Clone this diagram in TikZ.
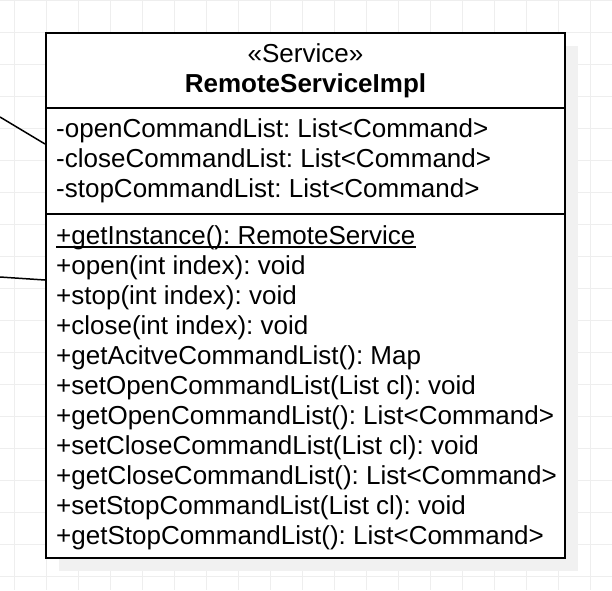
\documentclass[tikz,border=0pt]{standalone}
\usepackage{fontspec}
\setmainfont{Liberation Sans}
\usetikzlibrary{calc}
\definecolor{gridc}{HTML}{EEEEEE}
\definecolor{shadowc}{HTML}{F1F1F1}
\frenchspacing
\begin{document}
\begin{tikzpicture}[x=1pt,y=-1pt,
  gridline/.style={draw=gridc, line width=1pt},
  member/.style={anchor=base west, inner sep=0pt, font=\fontsize{26}{30}\selectfont},
  headtxt/.style={anchor=base, inner sep=0pt, font=\fontsize{26}{30}\selectfont},
  classbox/.style={draw=black, line width=2pt, fill=white, anchor=north west, inner sep=0pt, outer sep=0pt},
  sepline/.style={draw=black, line width=2pt},
  assoc/.style={draw=black, line width=1.5pt}]
\useasboundingbox (0,0) rectangle (612,590);
\fill[white] (0,0) rectangle (612,590);
\foreach \x in {14,46,...,590} \draw[gridline] (\x,0) -- (\x,590);
\foreach \y in {0,32,...,576} \draw[gridline] (0,\y) -- (612,\y);
% shadow
\fill[shadowc] (59,46) rectangle (578,571);
% class box
\node[classbox, minimum width=519pt, minimum height=525pt] (cls) at (46,33) {};
\draw[sepline] ($(cls.north west)+(0,75)$) -- ($(cls.north east)+(0,75)$);
\draw[sepline] ($(cls.north west)+(0,181)$) -- ($(cls.north east)+(0,181)$);
% header
\node[headtxt] (st) at (305.5,62) {«Service»};
\node[headtxt, font=\fontsize{26}{30}\selectfont\bfseries] (nm) at (305.5,92) {RemoteServiceImpl};
% attributes
\node[member] (a1) at (56,137.5) {-openCommandList: List<Command>};
\node[member] (a2) at (56,167.5) {-closeCommandList: List<Command>};
\node[member] (a3) at (56,197.5) {-stopCommandList: List<Command>};
% methods
\node[member] (m1) at (56,244.5) {+getInstance(): RemoteService};
\draw[line width=1.6pt] ($(m1.base west)+(0,2.5)$) -- ($(m1.base east)+(0,2.5)$);
\node[member] (m2) at (56,274.5) {+open(int index): void};
\node[member] (m3) at (56,304.5) {+stop(int index): void};
\node[member] (m4) at (56,334.5) {+close(int index): void};
\node[member] (m5) at (56,364.5) {+getAcitveCommandList(): Map};
\node[member] (m6) at (56,394.5) {+setOpenCommandList(List cl): void};
\node[member] (m7) at (56,424.5) {+getOpenCommandList(): List<Command>};
\node[member] (m8) at (56,454.5) {+setCloseCommandList(List cl): void};
\node[member] (m9) at (56,484.5) {+getCloseCommandList(): List<Command>};
\node[member] (m10) at (56,514.5) {+setStopCommandList(List cl): void};
\node[member] (m11) at (56,544.5) {+getStopCommandList(): List<Command>};
% connectors
\coordinate (e1) at (0,117);
\coordinate (e2) at (0,277);
\coordinate (t1) at ($(cls.north west)+(-1,111)$);
\coordinate (t2) at ($(cls.north west)+(-1,247)$);
\draw[assoc] (e1) -- (t1);
\draw[assoc] (e2) -- (t2);
\end{tikzpicture}
\end{document}
